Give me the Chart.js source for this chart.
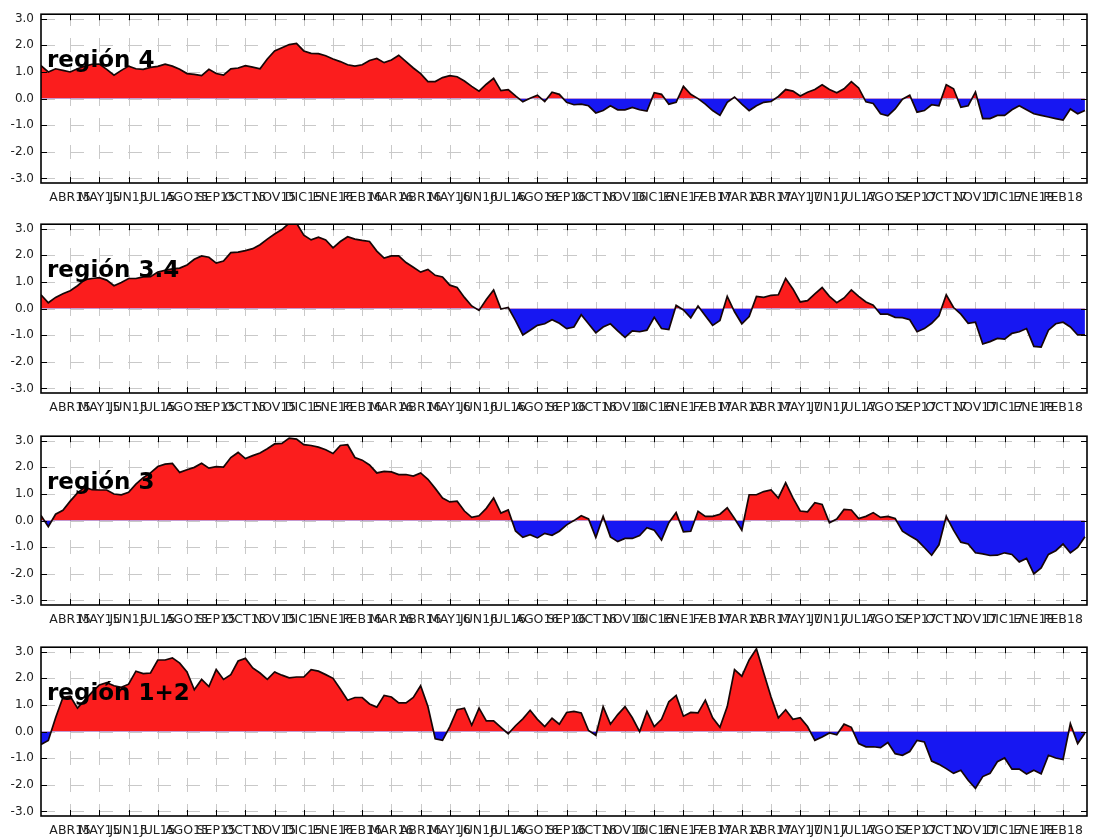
<!DOCTYPE html>
<html lang="es">
<head>
<meta charset="utf-8">
<title>Anomalías semanales - regiones Niño</title>
<script src="https://cdn.jsdelivr.net/npm/chart.js@4.4.1/dist/chart.umd.min.js"></script>
<style>
  html, body { margin:0; padding:0; background:#fff; overflow:hidden; }
  #wrap { position:relative; width:1099px; height:838px; }
  .panel { position:absolute; left:0; width:1099px; height:212px; }
</style>
</head>
<body>
<div id="wrap">
  <div class="panel" style="top:0px"><canvas id="c0"></canvas></div>
  <div class="panel" style="top:210px"><canvas id="c1"></canvas></div>
  <div class="panel" style="top:422px"><canvas id="c2"></canvas></div>
  <div class="panel" style="top:633px"><canvas id="c3"></canvas></div>
</div>
<script>
// ====== Datos ======
const MONTHS = ['ABR15','MAY15','JUN15','JUL15','AGO15','SEP15','OCT15','NOV15','DIC15',
  'ENE16','FEB16','MAR16','ABR16','MAY16','JUN16','JUL16','AGO16','SEP16','OCT16','NOV16','DIC16',
  'ENE17','FEB17','MAR17','ABR17','MAY17','JUN17','JUL17','AGO17','SEP17','OCT17','NOV17','DIC17',
  'ENE18','FEB18'];
const Y_TICKS = [-3, -2, -1, 0, 1, 2, 3];

// una muestra por semana (1/4 de mes), la primera un mes antes de ABR15
const START = -1;
const STEP = 0.25;

const region4 = [
  1.24, 1.00, 1.12, 1.06, 1.00, 1.12, 1.22, 1.29, 1.30, 1.10,
  0.88, 1.06, 1.22, 1.12, 1.10, 1.17, 1.21, 1.29, 1.22, 1.10,
  0.94, 0.91, 0.86, 1.10, 0.94, 0.88, 1.12, 1.15, 1.24, 1.18,
  1.12, 1.49, 1.79, 1.91, 2.03, 2.07, 1.79, 1.70, 1.69, 1.61,
  1.49, 1.39, 1.27, 1.22, 1.27, 1.43, 1.51, 1.35, 1.45, 1.63,
  1.39, 1.15, 0.94, 0.64, 0.64, 0.79, 0.86, 0.82, 0.66, 0.46,
  0.28, 0.54, 0.76, 0.30, 0.34, 0.10, -0.12, 0.01, 0.13, -0.11,
  0.24, 0.16, -0.14, -0.23, -0.21, -0.27, -0.54, -0.45, -0.27, -0.42,
  -0.42, -0.33, -0.42, -0.47, 0.22, 0.16, -0.21, -0.14, 0.46, 0.16,
  0.00, -0.21, -0.45, -0.63, -0.14, 0.06, -0.21, -0.45, -0.27, -0.14,
  -0.11, 0.08, 0.34, 0.28, 0.10, 0.24, 0.34, 0.52, 0.34, 0.22,
  0.37, 0.64, 0.40, -0.12, -0.18, -0.57, -0.65, -0.39, -0.02, 0.13,
  -0.51, -0.45, -0.23, -0.27, 0.52, 0.37, -0.33, -0.27, 0.25, -0.75,
  -0.75, -0.63, -0.63, -0.42, -0.27, -0.42, -0.57, -0.63, -0.69, -0.75,
  -0.81, -0.39, -0.57, -0.45
];

const region34 = [
  0.52, 0.22, 0.42, 0.56, 0.67, 0.86, 1.09, 1.13, 1.16, 1.07,
  0.86, 0.98, 1.13, 1.13, 1.19, 1.20, 1.37, 1.44, 1.49, 1.52,
  1.64, 1.85, 1.98, 1.93, 1.71, 1.79, 2.10, 2.12, 2.18, 2.25,
  2.40, 2.61, 2.80, 2.97, 3.21, 3.21, 2.76, 2.58, 2.68, 2.58,
  2.28, 2.52, 2.70, 2.61, 2.56, 2.52, 2.16, 1.90, 1.98, 1.98,
  1.73, 1.55, 1.37, 1.47, 1.25, 1.19, 0.88, 0.79, 0.42, 0.10,
  -0.07, 0.34, 0.70, -0.02, 0.04, -0.45, -0.99, -0.81, -0.63, -0.57,
  -0.42, -0.55, -0.75, -0.69, -0.23, -0.57, -0.91, -0.69, -0.57, -0.84,
  -1.08, -0.84, -0.87, -0.81, -0.33, -0.75, -0.79, 0.12, -0.05, -0.35,
  0.10, -0.27, -0.63, -0.45, 0.46, -0.12, -0.57, -0.30, 0.46, 0.42,
  0.50, 0.52, 1.13, 0.74, 0.25, 0.30, 0.55, 0.79, 0.46, 0.22,
  0.40, 0.70, 0.46, 0.25, 0.13, -0.21, -0.21, -0.33, -0.34, -0.42,
  -0.87, -0.75, -0.55, -0.27, 0.52, 0.04, -0.21, -0.55, -0.51, -1.33,
  -1.24, -1.12, -1.15, -0.93, -0.87, -0.75, -1.42, -1.45, -0.81, -0.57,
  -0.51, -0.69, -0.99, -0.99
];

const region3 = [
  0.19, -0.23, 0.24, 0.39, 0.73, 1.04, 1.25, 1.16, 1.15, 1.15,
  1.00, 0.97, 1.06, 1.37, 1.61, 1.79, 2.03, 2.12, 2.15, 1.81,
  1.91, 2.00, 2.15, 1.97, 2.03, 2.01, 2.37, 2.56, 2.33, 2.44,
  2.54, 2.70, 2.88, 2.90, 3.10, 3.06, 2.85, 2.82, 2.76, 2.66,
  2.52, 2.82, 2.85, 2.37, 2.27, 2.09, 1.79, 1.85, 1.83, 1.73,
  1.73, 1.67, 1.79, 1.55, 1.21, 0.85, 0.70, 0.73, 0.36, 0.12,
  0.18, 0.46, 0.85, 0.28, 0.40, -0.39, -0.63, -0.53, -0.65, -0.48,
  -0.55, -0.40, -0.16, 0.00, 0.18, 0.06, -0.64, 0.16, -0.61, -0.79,
  -0.67, -0.67, -0.56, -0.27, -0.36, -0.73, -0.08, 0.30, -0.42, -0.40,
  0.35, 0.16, 0.16, 0.24, 0.48, 0.08, -0.36, 0.97, 0.97, 1.09,
  1.15, 0.85, 1.42, 0.85, 0.36, 0.33, 0.67, 0.61, -0.08, 0.06,
  0.42, 0.40, 0.08, 0.16, 0.30, 0.12, 0.16, 0.08, -0.40, -0.57,
  -0.73, -1.01, -1.30, -0.91, 0.16, -0.36, -0.81, -0.88, -1.21, -1.25,
  -1.31, -1.30, -1.21, -1.27, -1.55, -1.42, -2.00, -1.78, -1.27, -1.13,
  -0.88, -1.21, -1.01, -0.61
];

const region12 = [
  -0.48, -0.33, 0.52, 1.28, 1.33, 0.88, 1.18, 1.48, 1.75, 1.84,
  1.72, 1.66, 1.78, 2.27, 2.18, 2.20, 2.69, 2.69, 2.77, 2.57,
  2.24, 1.57, 1.96, 1.69, 2.33, 1.96, 2.14, 2.65, 2.75, 2.39,
  2.20, 1.96, 2.24, 2.12, 2.02, 2.05, 2.05, 2.33, 2.27, 2.14,
  2.00, 1.60, 1.18, 1.28, 1.28, 1.04, 0.92, 1.36, 1.30, 1.08,
  1.08, 1.28, 1.72, 0.94, -0.27, -0.33, 0.19, 0.82, 0.88, 0.24,
  0.88, 0.40, 0.40, 0.16, -0.08, 0.22, 0.48, 0.80, 0.46, 0.19,
  0.50, 0.28, 0.72, 0.76, 0.70, 0.04, -0.14, 0.94, 0.28, 0.64,
  0.94, 0.52, 0.00, 0.76, 0.19, 0.46, 1.12, 1.36, 0.58, 0.72,
  0.70, 1.18, 0.52, 0.16, 0.94, 2.33, 2.08, 2.69, 3.11, 2.20,
  1.30, 0.52, 0.82, 0.46, 0.52, 0.19, -0.33, -0.20, -0.05, -0.12,
  0.28, 0.16, -0.45, -0.57, -0.57, -0.60, -0.41, -0.83, -0.89, -0.75,
  -0.33, -0.39, -1.11, -1.23, -1.39, -1.57, -1.45, -1.83, -2.13, -1.69,
  -1.57, -1.13, -0.99, -1.41, -1.41, -1.59, -1.45, -1.59, -0.89, -0.99,
  -1.05, 0.30, -0.45, -0.05
];

const PANELS = [
  { id:'c0', name:'región 4',   values: region4 },
  { id:'c1', name:'región 3.4', values: region34 },
  { id:'c2', name:'región 3',   values: region3 },
  { id:'c3', name:'región 1+2', values: region12 },
];

// ====== Estilo ======
const RED  = '#fb1d1d';
const BLUE = '#1717f2';
const GRID = '#c9c9c9';
const FONT = '"DejaVu Sans", "Liberation Sans", sans-serif';

// ====== Plugin: rejilla discontinua, marcas hacia dentro, marco y rótulo ======
const framePlugin = {
  id: 'frame',
  beforeDatasetsDraw(chart) {
    const {ctx, chartArea: a, scales: {x, y}} = chart;
    ctx.save();
    ctx.beginPath();
    ctx.rect(a.left, a.top, a.right - a.left, a.bottom - a.top);
    ctx.clip();
    ctx.fillStyle = GRID;
    // horizontales: un trazo de 14px por mes, con la fase que se corre poco a poco
    Y_TICKS.forEach(v => {
      const yy = Math.round(y.getPixelForValue(v));
      for (let j = -2; j <= 37; j++) {
        const x0 = Math.round(x.getPixelForValue(j * 0.993));
        ctx.fillRect(x0, yy, 14, 1);
      }
    });
    // verticales: trazo centrado en cada cruce
    MONTHS.forEach((_, i) => {
      const xx = Math.round(x.getPixelForValue(i));
      for (let v = -4; v <= 4; v++) {
        const yc = y.getPixelForValue(v);
        ctx.fillRect(xx, Math.round(yc - 7), 1, 14);
      }
    });
    ctx.restore();
  },
  afterDatasetsDraw(chart, args, opts) {
    const {ctx, chartArea: a, scales: {x, y}} = chart;
    const TL = 6;
    ctx.save();
    ctx.fillStyle = '#000';
    MONTHS.forEach((_, i) => {
      const xx = Math.round(x.getPixelForValue(i));
      ctx.fillRect(xx, a.top, 1, TL);
      ctx.fillRect(xx, a.bottom - TL, 1, TL);
    });
    Y_TICKS.forEach(v => {
      const yy = Math.round(y.getPixelForValue(v));
      ctx.fillRect(a.left, yy, TL, 1);
      ctx.fillRect(a.right - TL, yy, TL, 1);
    });
    ctx.strokeStyle = '#000';
    ctx.lineWidth = 1.6;
    ctx.strokeRect(a.left, a.top, a.right - a.left, a.bottom - a.top);

    ctx.font = 'bold 23px ' + FONT;
    ctx.textAlign = 'left';
    ctx.textBaseline = 'alphabetic';
    ctx.fillText(opts.label, a.left + 6, y.getPixelForValue(1.17));
    ctx.restore();
  }
};

// ====== Paneles ======
function makePanel(p) {
  const pts = p.values.map((v, i) => ({ x: START + i * STEP, y: v }));
  return new Chart(document.getElementById(p.id), {
    type: 'line',
    data: {
      datasets: [{
        data: pts,
        borderColor: '#160606',
        borderWidth: 1.7,
        pointRadius: 0,
        tension: 0,
        fill: { target: { value: 0 }, above: RED, below: BLUE }
      }]
    },
    options: {
      animation: false,
      responsive: true,
      maintainAspectRatio: false,
      layout: { padding: { left: 0, right: 12, top: 7, bottom: 0 } },
      plugins: {
        legend: { display: false },
        tooltip: { enabled: false },
        frame: { label: p.name }
      },
      scales: {
        x: {
          type: 'linear',
          min: -1,
          max: 34.82,
          afterBuildTicks: ax => { ax.ticks = MONTHS.map((_, i) => ({ value: i })); },
          afterFit: ax => { ax.height = 29; },
          grid: { display: false, drawTicks: false },
          border: { display: false },
          ticks: {
            autoSkip: false, maxRotation: 0, minRotation: 0, padding: 7,
            color: '#222', font: { family: FONT, size: 12.5 },
            callback: v => MONTHS[v]
          }
        },
        y: {
          min: -3.17,
          max: 3.17,
          afterBuildTicks: ax => { ax.ticks = Y_TICKS.map(v => ({ value: v })); },
          afterFit: ax => { ax.width = 41; },
          grid: { display: false, drawTicks: false },
          border: { display: false },
          ticks: {
            padding: 7,
            color: '#222', font: { family: FONT, size: 12 },
            callback: v => v.toFixed(1)
          }
        }
      }
    },
    plugins: [framePlugin]
  });
}

PANELS.forEach(makePanel);
</script>
</body>
</html>
